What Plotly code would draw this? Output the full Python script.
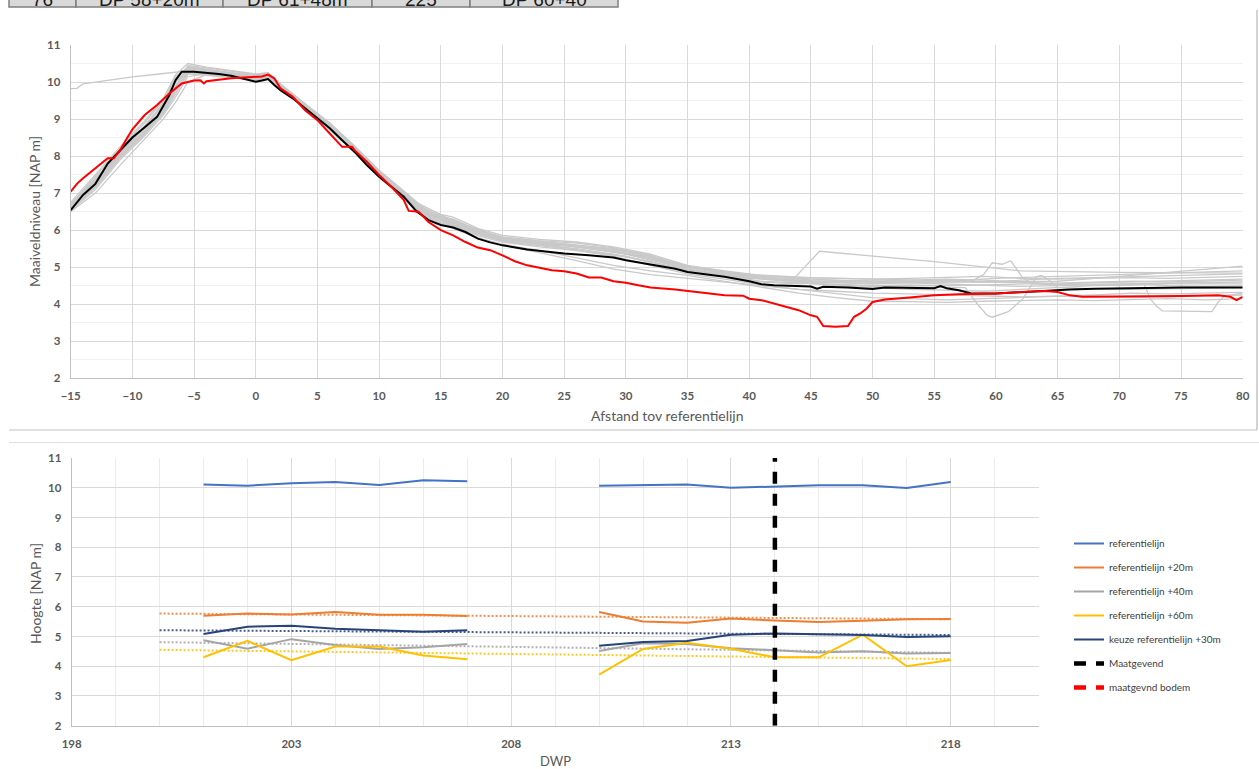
import plotly.graph_objects as go

W, H = 1259, 769

# ---------------- top chart data (profiles) ----------------
black_x = [-15, -14, -13, -12, -11, -10, -9, -8, -7.5, -7, -6.5, -6, -5, -4, -3, -2, -1, 0, 0.5, 1, 1.5, 2, 3, 4, 5, 6, 7, 8, 9, 10, 11, 12, 13, 14, 15, 16, 17, 18, 19, 20, 22, 24, 25, 27, 28, 29, 30, 32, 34, 35, 37, 38, 40, 41, 42, 44, 45, 45.5, 46, 48, 50, 51, 53, 55, 55.5, 56, 57, 58, 60, 62, 64, 66, 68, 70, 75, 80]
black_y = [6.54, 6.95, 7.25, 7.8, 8.15, 8.5, 8.78, 9.06, 9.35, 9.65, 10.05, 10.28, 10.28, 10.26, 10.22, 10.17, 10.1, 10.01, 10.04, 10.08, 9.92, 9.78, 9.56, 9.29, 9.02, 8.75, 8.43, 8.12, 7.76, 7.44, 7.17, 6.9, 6.52, 6.27, 6.14, 6.07, 5.95, 5.77, 5.67, 5.59, 5.48, 5.40, 5.37, 5.32, 5.30, 5.26, 5.19, 5.08, 4.96, 4.87, 4.78, 4.74, 4.62, 4.54, 4.51, 4.49, 4.48, 4.42, 4.47, 4.45, 4.41, 4.45, 4.45, 4.43, 4.49, 4.43, 4.38, 4.29, 4.29, 4.33, 4.38, 4.40, 4.42, 4.43, 4.45, 4.45]

red_x = [-15, -14.5, -14, -13, -12, -11.5, -11, -10.5, -10, -9, -8, -7, -6, -5, -4.5, -4.2, -4, -2, 0, 0.5, 1, 1.5, 2, 3, 4, 5, 6, 7, 7.8, 8, 9, 10, 11, 12, 12.4, 13.2, 14, 15, 16, 17, 18, 19, 20, 21, 22, 23, 24, 25, 26, 27, 28, 29, 30, 31, 32, 34, 36, 38, 39.5, 40, 41, 42, 43, 44, 45, 45.5, 46, 47, 48, 48.5, 49, 49.5, 50, 51, 53, 55, 57, 60, 62, 64, 65, 66, 67, 70, 72, 75, 78, 79, 79.5, 80]
red_y = [7.04, 7.25, 7.40, 7.67, 7.94, 7.94, 8.16, 8.45, 8.72, 9.11, 9.38, 9.69, 9.96, 10.04, 10.05, 9.96, 10.02, 10.1, 10.14, 10.15, 10.2, 10.1, 9.83, 9.6, 9.24, 8.97, 8.61, 8.25, 8.25, 8.16, 7.85, 7.49, 7.17, 6.81, 6.52, 6.5, 6.22, 6.0, 5.86, 5.68, 5.53, 5.46, 5.32, 5.16, 5.05, 4.98, 4.92, 4.89, 4.83, 4.72, 4.72, 4.62, 4.58, 4.51, 4.45, 4.40, 4.33, 4.24, 4.23, 4.15, 4.11, 4.02, 3.95, 3.84, 3.70, 3.66, 3.41, 3.39, 3.41, 3.66, 3.75, 3.88, 4.06, 4.13, 4.18, 4.24, 4.27, 4.29, 4.33, 4.36, 4.33, 4.24, 4.2, 4.2, 4.21, 4.22, 4.24, 4.2, 4.11, 4.2]

gray_x = [-15, -13, -11, -9, -7.5, -6.5, -5.5, -4, -2, 0, 1, 2, 4, 6, 8, 10, 12, 14, 16, 18, 20, 23, 26, 29, 32, 35, 38, 41, 44, 47, 50, 53, 56, 59, 62, 65, 68, 71, 74, 77, 80]
gray_1 = [6.7, 7.45, 8.2, 8.9, 9.5, 10.0, 10.35, 10.3, 10.22, 10.15, 10.2, 9.9, 9.35, 8.85, 8.2, 7.55, 6.98, 6.45, 6.3, 6.0, 5.8, 5.7, 5.62, 5.5, 5.3, 5.0, 4.85, 4.7, 4.65, 4.6, 4.55, 4.6, 4.62, 4.6, 4.65, 4.7, 4.72, 4.75, 4.78, 4.8, 4.82]
gray_2 = [6.6, 7.3, 8.05, 8.7, 9.3, 9.85, 10.45, 10.38, 10.28, 10.2, 10.22, 9.95, 9.4, 8.9, 8.28, 7.62, 7.05, 6.5, 6.35, 6.05, 5.86, 5.75, 5.68, 5.55, 5.35, 5.05, 4.9, 4.78, 4.72, 4.7, 4.68, 4.7, 4.72, 4.75, 4.7, 4.68, 4.7, 4.72, 4.7, 4.72, 4.75]
gray_3 = [6.5, 7.0, 7.75, 8.45, 9.0, 9.45, 10.0, 10.2, 10.15, 10.1, 10.12, 9.85, 9.32, 8.8, 8.18, 7.5, 6.95, 6.4, 6.2, 5.92, 5.75, 5.62, 5.55, 5.42, 5.22, 4.95, 4.78, 4.62, 4.58, 4.55, 4.5, 4.52, 4.5, 4.52, 4.55, 4.58, 4.6, 4.62, 4.6, 4.62, 4.65]
gray_4 = [6.58, 7.2, 8.0, 8.65, 9.2, 9.75, 10.3, 10.25, 10.2, 10.12, 10.15, 9.85, 9.3, 8.75, 8.1, 7.45, 6.88, 6.3, 6.1, 5.8, 5.6, 5.4, 5.18, 4.95, 4.8, 4.7, 4.6, 4.48, 4.4, 4.35, 4.3, 4.28, 4.25, 4.22, 4.2, 4.22, 4.2, 4.18, 4.2, 4.22, 4.25]
gray_5 = [6.65, 7.4, 8.1, 8.8, 9.4, 10.1, 10.38, 10.32, 10.25, 10.18, 10.25, 9.92, 9.38, 8.82, 8.22, 7.52, 6.95, 6.38, 6.25, 5.95, 5.78, 5.65, 5.58, 5.45, 5.25, 5.0, 4.82, 4.68, 4.6, 4.5, 4.45, 4.4, 4.38, 4.35, 4.4, 4.45, 4.5, 4.52, 4.55, 4.55, 4.55]
gray_6 = [6.55, 7.15, 7.95, 8.6, 9.15, 9.7, 10.22, 10.18, 10.12, 10.05, 10.1, 9.8, 9.28, 8.72, 8.1, 7.42, 6.85, 6.28, 6.05, 5.78, 5.62, 5.45, 5.25, 5.05, 4.9, 4.78, 4.62, 4.45, 4.3, 4.18, 4.08, 4.07, 4.05, 4.08, 4.1, 4.12, 4.1, 4.12, 4.15, 4.12, 4.15]
gray_7 = [6.62, 7.35, 8.08, 8.75, 9.45, 10.15, 10.4, 10.35, 10.25, 10.15, 10.18, 9.88, 9.33, 8.78, 8.15, 7.48, 6.92, 6.35, 6.18, 5.88, 5.72, 5.6, 5.5, 5.35, 5.15, 4.9, 4.75, 4.6, 4.55, 4.6, 4.62, 4.65, 4.68, 4.65, 4.6, 4.55, 4.58, 4.6, 4.62, 4.65, 4.68]
gray_8 = [6.75, 7.5, 8.25, 8.95, 9.55, 10.2, 10.5, 10.4, 10.3, 10.22, 10.25, 9.95, 9.42, 8.88, 8.25, 7.58, 7.0, 6.42, 6.28, 6.0, 5.82, 5.72, 5.65, 5.52, 5.32, 5.02, 4.88, 4.75, 4.7, 4.65, 4.6, 4.58, 4.55, 4.5, 4.48, 4.5, 4.52, 4.55, 4.5, 4.48, 4.5]
gray_9 = [6.6, 7.28, 8.02, 8.68, 9.25, 9.9, 10.3, 10.28, 10.2, 10.1, 10.15, 9.85, 9.3, 8.77, 8.13, 7.47, 6.9, 6.33, 6.12, 5.85, 5.68, 5.55, 5.45, 5.3, 5.05, 4.82, 4.68, 4.52, 4.4, 4.28, 4.18, 4.15, 4.12, 4.15, 4.18, 4.2, 4.25, 4.3, 4.28, 4.3, 4.32]

odd1_x = [-15, -14.5, -14, -12, -10, -8, -7, -6, -5, -3, -1, 0, 1, 2, 4, 7, 10, 13, 16, 20, 25, 30, 35, 40, 45, 50, 55, 60, 65, 70, 75, 80]
odd1_y = [9.82, 9.83, 9.95, 10.05, 10.14, 10.21, 10.25, 10.3, 10.32, 10.28, 10.2, 10.15, 10.2, 9.9, 9.35, 8.55, 7.6, 6.75, 6.25, 5.8, 5.6, 5.35, 4.95, 4.7, 4.6, 4.55, 4.6, 4.7, 4.75, 4.8, 4.85, 4.9]
odd2_x = [-15, -13, -11, -9, -7.5, -6.5, -5.5, -4, -2, 0, 1, 2, 4, 7, 10, 13, 16, 20, 25, 30, 35, 40, 43.5, 45.7, 55, 62, 70, 80]
odd2_y = [6.52, 7.1, 7.9, 8.55, 9.1, 9.6, 10.15, 10.22, 10.15, 10.08, 10.12, 9.82, 9.3, 8.45, 7.45, 6.6, 6.15, 5.7, 5.5, 5.3, 4.92, 4.72, 4.65, 5.43, 5.15, 4.9, 4.86, 4.84]
odd3_x = [-15, -13, -11, -9, -7.5, -6.5, -5.5, -4, -2, 0, 1, 2, 4, 7, 10, 13, 16, 20, 25, 30, 35, 40, 45, 50, 55, 58, 59, 59.7, 60.5, 61.2, 62.2, 63, 65, 70, 75, 80]
odd3_y = [6.56, 7.22, 8.0, 8.62, 9.18, 9.8, 10.25, 10.22, 10.18, 10.08, 10.1, 9.82, 9.3, 8.48, 7.5, 6.62, 6.12, 5.72, 5.52, 5.28, 4.9, 4.72, 4.62, 4.6, 4.62, 4.62, 4.8, 5.12, 5.08, 5.17, 4.7, 4.55, 4.52, 4.55, 4.58, 4.6]
odd4_x = [-15, -13, -11, -9, -7.5, -6.5, -5.5, -4, -2, 0, 1, 2, 4, 7, 10, 13, 16, 20, 25, 30, 35, 40, 45, 50, 55, 57.5, 58.5, 59.3, 59.7, 61, 62.2, 63.3, 63.7, 64.3, 65, 70, 75, 80]
odd4_y = [6.63, 7.32, 8.1, 8.78, 9.38, 10.0, 10.33, 10.3, 10.22, 10.12, 10.18, 9.9, 9.36, 8.52, 7.55, 6.68, 6.2, 5.76, 5.6, 5.42, 5.0, 4.78, 4.55, 4.48, 4.45, 4.45, 4.0, 3.7, 3.65, 3.8, 4.15, 4.75, 4.78, 4.65, 4.45, 4.4, 4.42, 4.45]
odd5_x = [-15, -13, -11, -9, -7.5, -6.5, -5.5, -4, -2, 0, 1, 2, 4, 7, 10, 13, 16, 20, 25, 30, 35, 40, 45, 50, 55, 60, 65, 70, 72, 72.5, 73, 73.5, 77.5, 78, 78.5, 80]
odd5_y = [6.68, 7.38, 8.12, 8.82, 9.42, 10.05, 10.42, 10.34, 10.24, 10.14, 10.22, 9.9, 9.36, 8.55, 7.55, 6.7, 6.22, 5.78, 5.62, 5.45, 5.02, 4.8, 4.72, 4.68, 4.66, 4.6, 4.55, 4.5, 4.55, 4.15, 3.95, 3.82, 3.8, 4.05, 4.22, 4.3]
odd6_x = [-15, -13, -11, -9, -7.5, -6.5, -5.5, -4, -2, 0, 1, 2, 4, 7, 10, 13, 16, 20, 25, 30, 35, 40, 45, 50, 55, 60, 65, 70, 75, 80]
odd6_y = [6.57, 7.18, 7.98, 8.6, 9.22, 9.9, 10.36, 10.3, 10.2, 10.1, 10.16, 9.86, 9.32, 8.5, 7.5, 6.64, 6.18, 5.74, 5.58, 5.38, 4.98, 4.76, 4.66, 4.62, 4.6, 4.6, 4.62, 4.75, 4.88, 5.03]

# ---------------- bottom chart data ----------------
dwp = [201, 202, 203, 204, 205, 206, 207, 208, 209, 210, 211, 212, 213, 214, 215, 216, 217, 218]
ref_0 = [10.11, 10.07, 10.15, 10.19, 10.09, 10.25, 10.22, None, None, 10.07, 10.08, 10.11, 10.0, 10.04, 10.08, 10.08, 9.99, 10.19]
ref_20 = [5.70, 5.77, 5.74, 5.82, 5.73, 5.73, 5.69, None, None, 5.82, 5.50, 5.46, 5.60, 5.54, 5.49, 5.53, 5.58, 5.59]
ref_40 = [4.87, 4.59, 4.91, 4.71, 4.58, 4.64, 4.75, None, None, 4.51, 4.77, 4.75, 4.60, 4.54, 4.46, 4.50, 4.43, 4.44]
ref_60 = [4.30, 4.85, 4.20, 4.66, 4.66, 4.36, 4.23, None, None, 3.72, 4.58, 4.79, 4.59, 4.30, 4.30, 5.06, 4.00, 4.21]
keuze_30 = [5.08, 5.33, 5.36, 5.26, 5.21, 5.16, 5.21, None, None, 4.69, 4.81, 4.85, 5.06, 5.10, 5.08, 5.05, 4.98, 5.01]
trend_x = [200, 218]
trend_20 = [5.77, 5.58]
trend_40 = [4.81, 4.45]
trend_60 = [4.55, 4.24]
trend_30 = [5.21, 5.05]
maatgevend_x = [214, 214]
maatgevend_y = [2, 11]

table_cells = ["76", "DP 58+20m", "DP 61+48m", "225", "DP 60+40"]

C_BLUE, C_ORANGE, C_GRAY, C_YELLOW, C_NAVY = "#4472C4", "#ED7D31", "#A5A5A5", "#FFC000", "#264478"
FONT = "Lato"
TXT = "#595959"

def px(x):
    return x / W

def py(y):
    return 1 - y / H

fig = go.Figure()

grays = [(gray_x, g) for g in [gray_1, gray_2, gray_3, gray_4, gray_5, gray_6, gray_7, gray_8, gray_9]]
grays += [(odd1_x, odd1_y), (odd2_x, odd2_y), (odd3_x, odd3_y), (odd4_x, odd4_y), (odd5_x, odd5_y), (odd6_x, odd6_y)]
for gx, gy in grays:
    fig.add_trace(go.Scatter(x=gx, y=gy, mode="lines", line=dict(color="#c9c9c9", width=1.3),
                             showlegend=False, xaxis="x", yaxis="y", hoverinfo="skip"))
fig.add_trace(go.Scatter(x=black_x, y=black_y, mode="lines", line=dict(color="#000000", width=2),
                         showlegend=False, xaxis="x", yaxis="y"))
fig.add_trace(go.Scatter(x=red_x, y=red_y, mode="lines", line=dict(color="#ff0000", width=2),
                         showlegend=False, xaxis="x", yaxis="y"))

# bottom chart
for ty, col in [(trend_20, C_ORANGE), (trend_30, C_NAVY), (trend_40, C_GRAY), (trend_60, C_YELLOW)]:
    fig.add_trace(go.Scatter(x=trend_x, y=ty, mode="lines", line=dict(color=col, width=2, dash="2px,2px"),
                             opacity=0.85, showlegend=False, xaxis="x2", yaxis="y2", hoverinfo="skip"))

series = [("referentielijn", ref_0, C_BLUE), ("referentielijn +20m", ref_20, C_ORANGE),
          ("referentielijn +40m", ref_40, C_GRAY), ("referentielijn +60m", ref_60, C_YELLOW),
          ("keuze referentielijn +30m", keuze_30, C_NAVY)]
for i, (name, vals, col) in enumerate(series):
    fig.add_trace(go.Scatter(x=dwp, y=vals, mode="lines", name=name, line=dict(color=col, width=2),
                             connectgaps=False, xaxis="x2", yaxis="y2", legendgroup=f"g{i}"))
fig.add_trace(go.Scatter(x=maatgevend_x, y=maatgevend_y, mode="lines", name="Maatgevend",
                         line=dict(color="#000000", width=4.5, dash="12px,10px"),
                         xaxis="x2", yaxis="y2", legendgroup="g5"))
fig.add_trace(go.Scatter(x=[None], y=[None], mode="lines", name="maatgevnd bodem",
                         line=dict(color="#ff0000", width=4.5, dash="12px,10px"),
                         xaxis="x2", yaxis="y2", legendgroup="g6"))

axis_common = dict(showline=True, linecolor="#bfbfbf", linewidth=1, zeroline=False, ticks="",
                   automargin=False,
                   tickfont=dict(family=FONT, size=11.5, color=TXT, weight="bold"), ticklabelstandoff=7)

shapes = []
# container borders
shapes.append(dict(type="line", xref="paper", yref="paper", x0=px(9), x1=px(1257), y0=py(430), y1=py(430),
                   line=dict(color="#c4c4c4", width=1.2)))
shapes.append(dict(type="line", xref="paper", yref="paper", x0=px(1257), x1=px(1257), y0=py(10), y1=py(430),
                   line=dict(color="#c4c4c4", width=1.5)))
shapes.append(dict(type="line", xref="paper", yref="paper", x0=px(9), x1=px(1259), y0=py(442.5), y1=py(442.5),
                   line=dict(color="#dedede", width=1)))
# table row cut off at the top edge of the page
cell_edges = [9, 76, 223, 372, 470, 618]
annotations = []
for i, label in enumerate(table_cells):
    x0, x1 = cell_edges[i], cell_edges[i + 1]
    shapes.append(dict(type="rect", xref="paper", yref="paper", x0=px(x0), x1=px(x1), y0=py(7), y1=py(-40),
                       fillcolor="#d9d9d9", line=dict(color="#7f7f7f", width=1.5)))
    annotations.append(dict(text=label, xref="paper", yref="paper", x=px((x0 + x1) / 2), y=py(12),
                            xanchor="center", yanchor="bottom", showarrow=False,
                            font=dict(family="Liberation Sans", size=19, color="#1a1a1a")))

# axis titles
title_font = dict(family=FONT, size=14, color=TXT)
annotations += [
    dict(text="Maaiveldniveau [NAP m]", xref="paper", yref="paper", x=px(35), y=py(212), textangle=-90,
         xanchor="center", yanchor="middle", showarrow=False, font=title_font),
    dict(text="Afstand tov referentielijn", xref="paper", yref="paper", x=px(667), y=py(415),
         xanchor="center", yanchor="middle", showarrow=False, font=title_font),
    dict(text="Hoogte [NAP m]", xref="paper", yref="paper", x=px(35), y=py(594), textangle=-90,
         xanchor="center", yanchor="middle", showarrow=False, font=title_font),
    dict(text="DWP", xref="paper", yref="paper", x=px(555), y=py(761),
         xanchor="center", yanchor="middle", showarrow=False, font=dict(family=FONT, size=13, color=TXT)),
]

fig.update_layout(
    width=W, height=H, margin=dict(l=0, r=0, t=0, b=0, autoexpand=False),
    paper_bgcolor="white", plot_bgcolor="white",
    xaxis=dict(domain=[px(70.7), px(1242.7)], anchor="y", range=[-15, 80], dtick=5, tick0=-15,
               showgrid=True, gridcolor="#d9d9d9", **axis_common),
    yaxis=dict(domain=[py(378.3), py(45)], anchor="x", range=[2, 11], dtick=1,
               showgrid=True, gridcolor="#d9d9d9",
               minor=dict(dtick=0.5, showgrid=True, gridcolor="#f1f1f1"), **axis_common),
    xaxis2=dict(domain=[px(71.7), px(1038.6)], anchor="y2", range=[198, 220], dtick=5, tick0=198,
                showgrid=True, gridcolor="#d9d9d9",
                minor=dict(dtick=1, showgrid=True, gridcolor="#ececec"), **axis_common),
    yaxis2=dict(domain=[py(725.7), py(458)], anchor="x2", range=[2, 11], dtick=1,
                showgrid=True, gridcolor="#d9d9d9", **axis_common),
    legend=dict(x=px(1069), y=py(529), xanchor="left", yanchor="top", bgcolor="rgba(0,0,0,0)",
                font=dict(family=FONT, size=10, color="#404040"), tracegroupgap=5, traceorder="grouped"),
    shapes=shapes, annotations=annotations, showlegend=True,
)

fig.write_html("out.html", config={"displayModeBar": False},
               post_script="document.body.style.margin='0px';document.body.style.overflow='hidden';")
